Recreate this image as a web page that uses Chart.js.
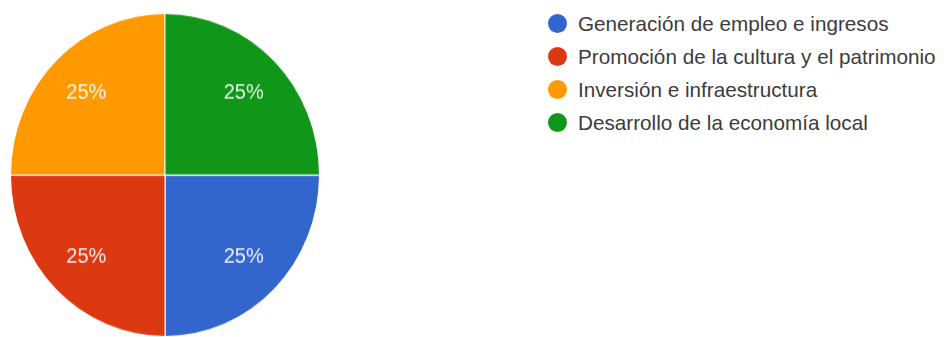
<!DOCTYPE html>
<html>
<head>
<meta charset="utf-8">
<script src="https://cdn.jsdelivr.net/npm/chart.js@4"></script>
<style>
  body{margin:0;background:#fff;}
  .wrap{position:relative;width:946px;height:337px;overflow:hidden;}
  /* the reference pie is a little taller than wide */
  .pie{position:absolute;left:0;top:0;width:330px;height:337px;transform:scaleY(1.045);transform-origin:165px 175px;}
  .legend{position:absolute;left:548px;top:7px;margin:0;padding:0;list-style:none;
    font-family:"Liberation Sans",Arial,sans-serif;font-size:20.7px;color:#3c3c3c;}
  .legend li{height:33px;line-height:33px;display:flex;align-items:center;white-space:nowrap;}
  .legend span{display:inline-block;width:19px;height:19px;border-radius:50%;margin-right:11px;}
</style>
</head>
<body>
<div class="wrap">
  <div class="pie"><canvas id="myChart"></canvas></div>
  <ul class="legend" id="legend"></ul>
</div>
<script>
const labels=['Generación de empleo e ingresos','Promoción de la cultura y el patrimonio','Inversión e infraestructura','Desarrollo de la economía local']
const values=[25,25,25,25]
const colors=['#3366cc','#dc3912','#ff9900','#109618']

// percentage text inside each slice
const sliceLabels={
  id:'sliceLabels',
  afterDatasetsDraw(chart){
    const ctx=chart.ctx
    const meta=chart.getDatasetMeta(0)
    const total=values.reduce((a,b)=>a+b,0)
    ctx.save()
    ctx.font='20px "Liberation Sans", Arial, sans-serif'
    ctx.fillStyle='rgba(255,255,255,0.9)'
    ctx.textAlign='center'
    ctx.textBaseline='middle'
    meta.data.forEach((arc,i)=>{
      const p=arc.getProps(['x','y','startAngle','endAngle','outerRadius'],true)
      const mid=(p.startAngle+p.endAngle)/2
      const r=p.outerRadius*0.72
      ctx.fillText(Math.round(values[i]/total*100)+'%',p.x+Math.cos(mid)*r,p.y+Math.sin(mid)*r)
    })
    ctx.restore()
  }
}

const chart=new Chart(document.getElementById('myChart'),{
  type:'pie',
  data:{
    labels:labels,
    datasets:[{
      data:values,
      backgroundColor:colors,
      borderColor:'#fff',
      borderWidth:1
    }]
  },
  options:{
    responsive:true,
    maintainAspectRatio:false,
    animation:false,
    rotation:90,
    layout:{padding:{top:20,bottom:7,left:10,right:10}},
    plugins:{legend:{display:false},tooltip:{enabled:false}}
  },
  plugins:[sliceLabels]
})

function showLegend(){
  const legend=document.getElementById('legend')
  labels.map((name,i)=>{
    const li=document.createElement('li')
    const dot=document.createElement('span')
    dot.style.background=colors[i]
    li.appendChild(dot)
    li.appendChild(document.createTextNode(name))
    legend.appendChild(li)
  })
}
showLegend()
</script>
</body>
</html>
